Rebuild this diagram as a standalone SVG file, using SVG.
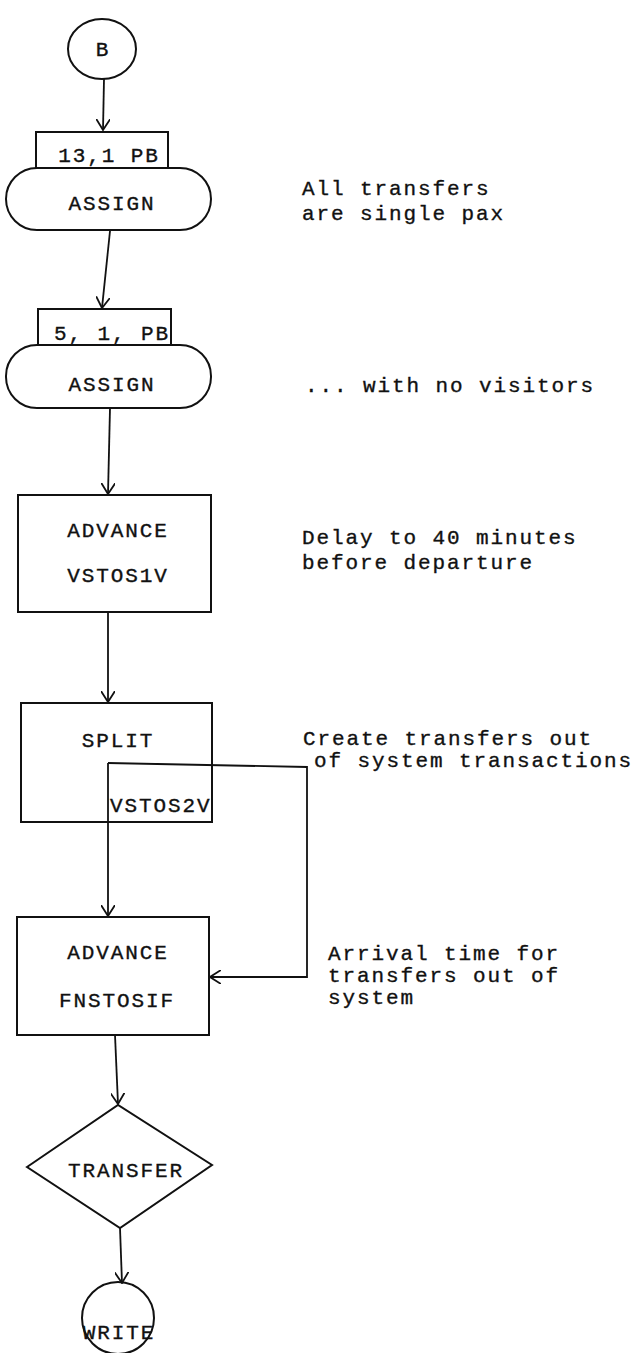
<svg xmlns="http://www.w3.org/2000/svg" width="641" height="1353" viewBox="0 0 641 1353">
<defs>
<marker id="arr" viewBox="0 0 12 14" refX="11" refY="7" markerWidth="12" markerHeight="14" markerUnits="userSpaceOnUse" orient="auto">
<path d="M0,0 L11,7 L0,14" fill="none" stroke="#111" stroke-width="1.8"/>
</marker>
</defs>
<style>
.s{fill:none;stroke:#111;stroke-width:2}
.c{fill:none;stroke:#111;stroke-width:1.8}
text{font-family:"Liberation Mono","DejaVu Sans Mono",monospace;font-size:21px;letter-spacing:1.9px;fill:#111;stroke:#111;stroke-width:0.35}
.m{text-anchor:middle}
</style>
<rect width="641" height="1353" fill="#fff"/>
<g id="connectors">
<path class="c" d="M104,79 L103,130" marker-end="url(#arr)"/>
<path class="c" d="M110,231 L102,308" marker-end="url(#arr)"/>
<path class="c" d="M110,408 L108,494" marker-end="url(#arr)"/>
<path class="c" d="M108,612 L108,702" marker-end="url(#arr)"/>
<path class="c" d="M108,763 L108,916" marker-end="url(#arr)"/>
<path class="c" d="M108,763 L307,767 L307,977 L210,977" marker-end="url(#arr)"/>
<path class="c" d="M115,1035 L118,1104" marker-end="url(#arr)"/>
<path class="c" d="M120,1228 L122,1283" marker-end="url(#arr)"/>
</g>
<g id="node-b">
<ellipse class="s" cx="102" cy="49" rx="34" ry="30"/>
<text class="m" x="103" y="56">B</text>
</g>
<g id="node-assign1">
<path class="s" d="M36,168 L36,132 L168,132 L168,168"/>
<text class="m" x="109" y="162">13,1 PB</text>
<rect class="s" x="6" y="168" width="205" height="62" rx="31"/>
<text class="m" x="112" y="210">ASSIGN</text>
</g>
<g id="node-assign2">
<path class="s" d="M38,345 L38,309 L171,309 L171,345"/>
<text class="m" x="112" y="340">5, 1, PB</text>
<rect class="s" x="6" y="345" width="205" height="63" rx="31"/>
<text class="m" x="112" y="391">ASSIGN</text>
</g>
<g id="node-advance1">
<rect class="s" x="18" y="495" width="193" height="117"/>
<text class="m" x="118" y="537">ADVANCE</text>
<text class="m" x="118" y="582">VSTOS1V</text>
</g>
<g id="node-split">
<rect class="s" x="21" y="703" width="191" height="119"/>
<text class="m" x="118" y="747">SPLIT</text>
<text x="110" y="812">VSTOS2V</text>
</g>
<g id="node-advance2">
<rect class="s" x="17" y="917" width="192" height="118"/>
<text class="m" x="118" y="959">ADVANCE</text>
<text class="m" x="117" y="1007">FNSTOSIF</text>
</g>
<g id="node-transfer">
<path class="s" d="M27,1167 L118,1105 L212,1165 L120,1228 Z"/>
<text class="m" x="126" y="1177">TRANSFER</text>
</g>
<g id="node-write">
<circle class="s" cx="118" cy="1318" r="36"/>
<text class="m" x="119" y="1339">WRITE</text>
</g>
<g id="notes">
<text x="302" y="195">All transfers</text>
<text x="302" y="220">are single pax</text>
<text x="305" y="392">... with no visitors</text>
<text x="302" y="544">Delay to 40 minutes</text>
<text x="302" y="569">before departure</text>
<text x="303" y="745">Create transfers out</text>
<text x="314" y="767">of system transactions</text>
<text x="328" y="960">Arrival time for</text>
<text x="328" y="982">transfers out of</text>
<text x="328" y="1004">system</text>
</g>
</svg>
